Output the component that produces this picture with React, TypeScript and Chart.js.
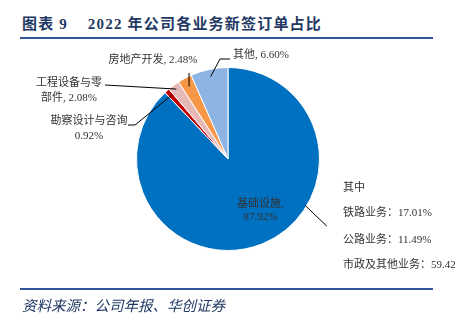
import React, { useEffect, useRef } from "react";
import { Chart, registerables } from "chart.js";

Chart.register(...registerables);

const categories = ["基础设施", "勘察设计与咨询", "工程设备与零部件", "房地产开发", "其他"];
const shares = [87.92, 0.92, 2.08, 2.48, 6.6];
const sliceColors = ["#0070C0", "#C00000", "#E6B9B8", "#F79646", "#8DB4E2"];
const subTitle = "其中";
const subItems = ["铁路业务：17.01%", "公路业务：11.49%", "市政及其他业务：59.42"];

const FONT = "11px 'Liberation Serif', 'Noto Sans CJK SC', serif";
const TEXT = "#333333";

const labelPlugin = {
  id: "pieLabels",
  afterDraw(chart: any) {
    const ctx = chart.ctx;
    const meta = chart.getDatasetMeta(0);
    const pt = (i: number, f: number) => {
      const a = meta.data[i].getProps(["x", "y", "startAngle", "endAngle", "outerRadius"], true);
      const m = (a.startAngle + a.endAngle) / 2;
      return { x: a.x + Math.cos(m) * a.outerRadius * f, y: a.y + Math.sin(m) * a.outerRadius * f, cx: a.x, cy: a.y, r: a.outerRadius };
    };
    ctx.save();
    ctx.font = FONT;
    ctx.fillStyle = TEXT;
    ctx.strokeStyle = "#000";
    ctx.lineWidth = 1;
    ctx.textBaseline = "middle";
    const line = (pts: number[][]) => {
      ctx.beginPath();
      ctx.moveTo(pts[0][0], pts[0][1]);
      for (let k = 1; k < pts.length; k++) ctx.lineTo(pts[k][0], pts[k][1]);
      ctx.stroke();
    };
    const fmt = (v: number) => v.toFixed(2) + "%";

    // 其他
    const p4 = pt(4, 0.92);
    line([[p4.x, p4.y], [220, 59], [230, 59]]);
    ctx.textAlign = "left";
    ctx.fillText(categories[4] + ", " + fmt(shares[4]), 233, 55);

    // 房地产开发
    const p3 = pt(3, 0.9);
    line([[p3.x, p3.y], [p3.x, 73]]);
    ctx.textAlign = "center";
    ctx.fillText(categories[3] + ", " + fmt(shares[3]), 153, 60);

    // 工程设备与零部件
    const p2 = pt(2, 0.95);
    line([[p2.x, p2.y], [105, 85]]);
    ctx.fillText(categories[2].slice(0, 6), 69, 83);
    ctx.fillText(categories[2].slice(6) + ", " + fmt(shares[2]), 69, 98);

    // 勘察设计与咨询
    const p1 = pt(1, 0.93);
    line([[p1.x, p1.y], [135, 125], [128, 125]]);
    ctx.fillText(categories[1], 89, 121);
    ctx.fillText(fmt(shares[1]), 89, 136);

    // 基础设施 (inside)
    const p0 = pt(0, 0.6);
    ctx.fillText(categories[0] + ",", p0.x + 12, p0.y - 6);
    ctx.fillText(fmt(shares[0]), p0.x + 12, p0.y + 7);
    const ang = (121 - 90) * Math.PI / 180;
    const ex = p0.cx + Math.cos(ang) * p0.r * 0.98;
    const ey = p0.cy + Math.sin(ang) * p0.r * 0.98;
    line([[ex, ey], [ex + 22, ey + 21]]);

    ctx.textAlign = "left";
    ctx.fillText(subTitle, 343, 188);
    const ys = [213, 240, 265];
    subItems.forEach((s, i) => ctx.fillText(s, 343, ys[i]));
    ctx.restore();
  },
};

export default function App() {
  const ref = useRef<HTMLCanvasElement>(null);
  useEffect(() => {
    document.body.style.margin = "0";
    const chart = new Chart(ref.current!, {
      type: "pie",
      data: {
        labels: categories,
        datasets: [
          {
            data: shares,
            backgroundColor: sliceColors,
            borderColor: "#ffffff",
            borderWidth: 1,
          },
        ],
      },
      options: {
        responsive: false,
        animation: false,
        devicePixelRatio: 1,
        layout: { padding: { left: 136, right: 138, top: 67, bottom: 70 } },
        plugins: { legend: { display: false }, tooltip: { enabled: false } },
      },
      plugins: [labelPlugin],
    });
    return () => chart.destroy();
  }, []);

  return (
    <div style={{ position: "relative", width: 458, height: 321, background: "#fff", overflow: "hidden" }}>
      <div
        style={{
          position: "absolute",
          left: 22,
          top: 12,
          font: "bold 15px 'Liberation Serif', 'Noto Sans CJK SC', serif",
          letterSpacing: "1.2px",
          color: "#1F3864",
          whiteSpace: "nowrap",
        }}
      >
        图表 9&nbsp;&nbsp;&nbsp;&nbsp;2022 年公司各业务新签订单占比
      </div>
      <div style={{ position: "absolute", left: 20, top: 37, width: 413, height: 2, background: "#2F5597" }} />
      <canvas ref={ref} width={458} height={321} style={{ position: "absolute", left: 0, top: 0 }} />
      <div style={{ position: "absolute", left: 20, top: 288, width: 413, height: 2, background: "#2F5597" }} />
      <div
        style={{
          position: "absolute",
          left: 22,
          top: 294,
          font: "italic 14.5px 'Noto Sans CJK SC', serif",
          color: "#1F3864",
          whiteSpace: "nowrap",
        }}
      >
        资料来源：公司年报、华创证券
      </div>
    </div>
  );
}
